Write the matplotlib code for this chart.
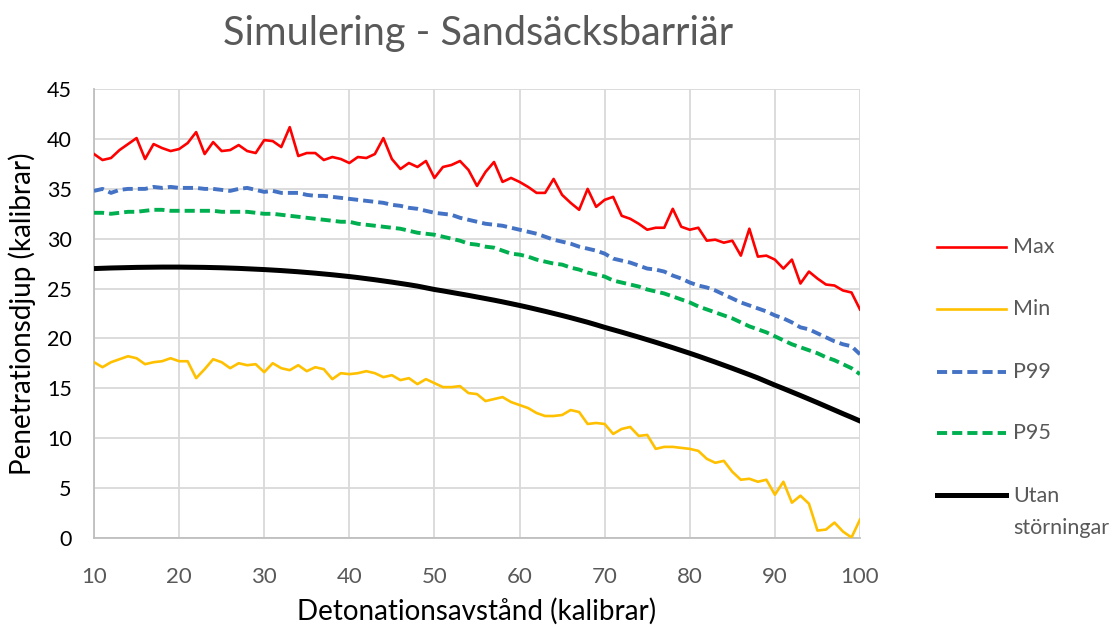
import matplotlib
matplotlib.use("Agg")
import matplotlib.pyplot as plt
from matplotlib.lines import Line2D

plt.rcParams['font.family'] = ['Lato', 'DejaVu Sans']

# Detonationsavstånd (kalibrar)
distance = list(range(10, 101))

max_vals = [38.5, 37.9, 38.1, 38.9, 39.5, 40.1, 38.0, 39.5, 39.1, 38.8,
            39.0, 39.6, 40.7, 38.5, 39.7, 38.8, 38.9, 39.4, 38.8, 38.6,
            39.9, 39.8, 39.2, 41.2, 38.3, 38.6, 38.6, 37.9, 38.2, 38.0,
            37.6, 38.2, 38.1, 38.5, 40.1, 38.0, 37.0, 37.6, 37.2, 37.8,
            36.1, 37.2, 37.4, 37.8, 36.9, 35.3, 36.7, 37.7, 35.7, 36.1,
            35.7, 35.2, 34.6, 34.6, 36.0, 34.4, 33.6, 32.9, 35.0, 33.2,
            33.9, 34.2, 32.3, 32.0, 31.5, 30.9, 31.1, 31.1, 33.0, 31.2,
            30.9, 31.1, 29.8, 29.9, 29.6, 29.8, 28.3, 31.0, 28.2, 28.3,
            27.9, 27.0, 27.9, 25.5, 26.7, 26.0, 25.4, 25.3, 24.8, 24.6,
            22.9]

min_vals = [17.6, 17.1, 17.6, 17.9, 18.2, 18.0, 17.4, 17.6, 17.7, 18.0,
            17.7, 17.7, 16.0, 16.9, 17.9, 17.6, 17.0, 17.5, 17.3, 17.4,
            16.6, 17.5, 17.0, 16.8, 17.3, 16.7, 17.1, 16.9, 15.9, 16.5,
            16.4, 16.5, 16.7, 16.5, 16.1, 16.3, 15.8, 16.0, 15.4, 15.9,
            15.5, 15.1, 15.1, 15.2, 14.5, 14.4, 13.7, 13.9, 14.1, 13.6,
            13.3, 13.0, 12.5, 12.2, 12.2, 12.3, 12.8, 12.6, 11.4, 11.5,
            11.4, 10.4, 10.9, 11.1, 10.2, 10.3, 8.9, 9.1, 9.1, 9.0,
            8.9, 8.7, 7.9, 7.5, 7.7, 6.6, 5.8, 5.9, 5.6, 5.8,
            4.3, 5.6, 3.5, 4.2, 3.4, 0.7, 0.8, 1.5, 0.6, 0.0,
            1.8]

p99_vals = [34.8, 35.0, 34.6, 34.9, 35.0, 35.0, 35.0, 35.2, 35.1, 35.2,
            35.1, 35.1, 35.1, 35.0, 35.0, 34.9, 34.8, 35.0, 35.1, 34.9,
            34.7, 34.8, 34.6, 34.6, 34.6, 34.4, 34.3, 34.3, 34.2, 34.1,
            34.0, 33.9, 33.8, 33.7, 33.6, 33.4, 33.3, 33.1, 33.0, 32.8,
            32.6, 32.5, 32.4, 32.1, 31.9, 31.7, 31.5, 31.4, 31.3, 31.1,
            30.9, 30.7, 30.5, 30.2, 29.9, 29.7, 29.5, 29.2, 29.0, 28.8,
            28.5, 28.0, 27.8, 27.6, 27.3, 27.0, 26.9, 26.7, 26.3, 26.0,
            25.6, 25.3, 25.1, 24.8, 24.4, 24.0, 23.6, 23.3, 23.0, 22.7,
            22.3, 22.0, 21.6, 21.1, 20.9, 20.5, 20.1, 19.7, 19.4, 19.2,
            18.4]

p95_vals = [32.6, 32.6, 32.5, 32.6, 32.7, 32.7, 32.8, 32.9, 32.9, 32.8,
            32.8, 32.8, 32.8, 32.8, 32.8, 32.7, 32.7, 32.7, 32.7, 32.6,
            32.5, 32.5, 32.4, 32.3, 32.2, 32.1, 32.0, 31.9, 31.8, 31.7,
            31.7, 31.5, 31.4, 31.3, 31.2, 31.1, 31.0, 30.8, 30.6, 30.5,
            30.4, 30.2, 30.0, 29.8, 29.5, 29.4, 29.2, 29.1, 28.8, 28.5,
            28.4, 28.2, 27.9, 27.7, 27.5, 27.4, 27.1, 26.9, 26.6, 26.4,
            26.2, 25.8, 25.6, 25.4, 25.2, 24.9, 24.7, 24.5, 24.2, 23.9,
            23.6, 23.2, 22.9, 22.6, 22.3, 22.0, 21.6, 21.2, 20.9, 20.6,
            20.2, 19.8, 19.4, 19.1, 18.8, 18.5, 18.1, 17.8, 17.4, 17.0,
            16.4]

utan_vals = [27.00, 27.03, 27.06, 27.08, 27.10, 27.12, 27.13, 27.14, 27.15, 27.15,
             27.15, 27.14, 27.13, 27.12, 27.10, 27.08, 27.05, 27.02, 26.98, 26.94,
             26.90, 26.85, 26.80, 26.74, 26.68, 26.61, 26.54, 26.46, 26.38, 26.29,
             26.20, 26.10, 25.99, 25.88, 25.76, 25.64, 25.51, 25.38, 25.24, 25.07,
             24.90, 24.76, 24.61, 24.46, 24.31, 24.15, 23.99, 23.83, 23.66, 23.48,
             23.30, 23.11, 22.91, 22.71, 22.50, 22.29, 22.07, 21.84, 21.61, 21.36,
             21.10, 20.86, 20.62, 20.37, 20.12, 19.86, 19.60, 19.33, 19.06, 18.78,
             18.50, 18.21, 17.91, 17.61, 17.30, 16.99, 16.67, 16.35, 16.02, 15.66,
             15.30, 14.96, 14.61, 14.26, 13.90, 13.54, 13.17, 12.80, 12.43, 12.07,
             11.70]

series = [
    ("Max", max_vals, '#FF0000', 1.9, '-'),
    ("Min", min_vals, '#FFC000', 1.9, '-'),
    ("P99", p99_vals, '#4472C4', 2.8, '--'),
    ("P95", p95_vals, '#00B050', 2.8, '--'),
    ("Utan\nstörningar", utan_vals, '#000000', 3.6, '-'),
]

fig = plt.figure(figsize=(11.15, 6.27), dpi=100)
ax = fig.add_axes([0.0843, 0.1427, 0.6870, 0.7149])

for name, vals, color, lw, ls in series:
    line, = ax.plot(distance, vals, color=color, linewidth=lw, linestyle=ls,
                    solid_joinstyle='round', zorder=3)
    if ls == '--':
        line.set_dashes((2.6, 1.3))

ax.set_xlim(10, 100)
ax.set_ylim(0, 45)
ax.set_xticks(range(10, 101, 10))
ax.set_yticks(range(0, 46, 5))
ax.grid(True, color='#D9D9D9', linewidth=1.3, zorder=0)
ax.set_axisbelow(True)
for s in ['top', 'right']:
    ax.spines[s].set_visible(False)
for s in ['left', 'bottom']:
    ax.spines[s].set_color('#BFBFBF')
    ax.spines[s].set_linewidth(1.3)
ax.tick_params(axis='both', length=0)
ax.tick_params(axis='y', pad=16, labelsize=15.5, labelcolor='#000000')
ax.tick_params(axis='x', pad=21, labelsize=16, labelcolor='#595959')

ax.set_xlabel("Detonationsavstånd (kalibrar)", fontsize=20, labelpad=8)
ax.set_ylabel("Penetrationsdjup (kalibrar)", fontsize=20, labelpad=8)

fig.text(0.429, 0.947, "Simulering - Sandsäcksbarriär", fontsize=28.5,
         color='#595959', ha='center', va='center')

# legend drawn at the right, like the Excel chart
W, H = 1115, 627
rows = [247, 309, 372, 433, 495]
for (name, vals, color, lw, ls), yp in zip(series, rows):
    yf = 1 - yp / H
    ln = Line2D([937 / W, 1006 / W], [yf, yf], color=color, linewidth=lw,
                linestyle=ls, transform=fig.transFigure)
    if ls == '--':
        ln.set_dashes((2.6, 1.3))
    fig.add_artist(ln)
    if '\n' in name:
        fig.text(1013 / W, yf + 9 / H, name, fontsize=15.5, color='#595959',
                 ha='left', va='top', linespacing=1.75)
    else:
        fig.text(1013 / W, yf, name, fontsize=15.5, color='#595959',
                 ha='left', va='center')

fig.savefig("out.png", dpi=100)
